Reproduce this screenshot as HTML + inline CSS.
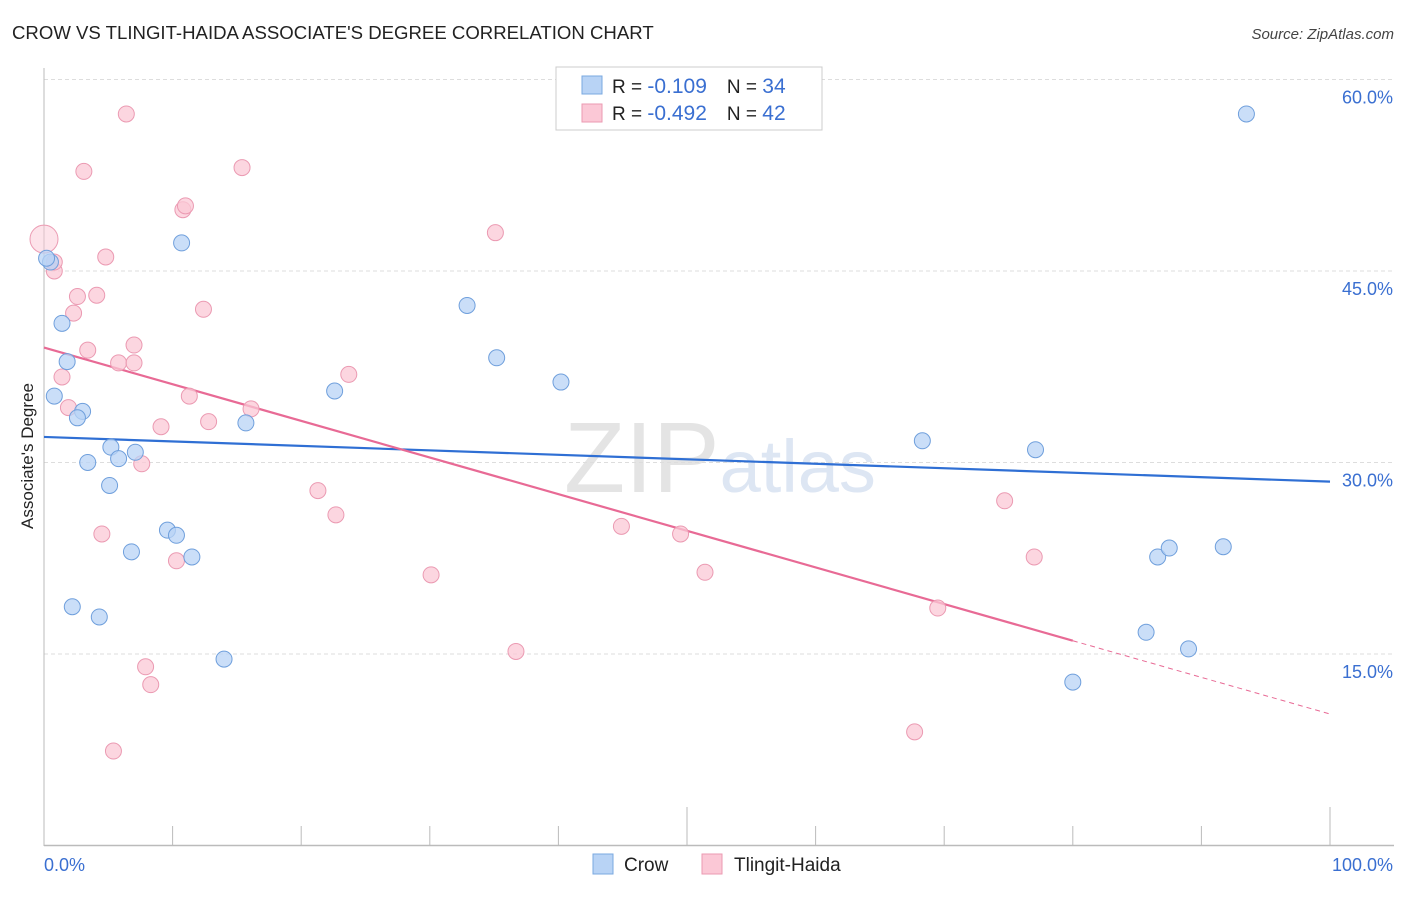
<!DOCTYPE html>
<html><head><meta charset="utf-8"><style>
body{margin:0;background:#fff;font-family:"Liberation Sans",sans-serif;}
svg text{font-family:"Liberation Sans",sans-serif;}
</style></head><body>
<svg id="chart" width="1406" height="892" xmlns="http://www.w3.org/2000/svg">
<text x="12" y="39" font-size="18.6" fill="#222">CROW VS TLINGIT-HAIDA ASSOCIATE'S DEGREE CORRELATION CHART</text>
<text x="1394" y="39" font-size="15" fill="#444" text-anchor="end" font-style="italic">Source: ZipAtlas.com</text>
<text x="720" y="492" font-size="100" text-anchor="middle" fill="#e4e4e4" font-family="Liberation Serif">ZIP<tspan fill="#dde6f3" font-family="Liberation Sans" font-size="74">atlas</tspan></text>
<g id="grid"></g><g id="axes"></g><g id="lines"></g><g id="pts"></g>
<text transform="translate(33,456) rotate(-90)" font-size="17" fill="#222" text-anchor="middle">Associate's Degree</text>
<g>
<rect x="556" y="67" width="266" height="63" fill="#fff" stroke="#ccc"/>
<rect x="582" y="76" width="20" height="18" fill="#b8d3f5" stroke="#7aa8e0"/>
<rect x="582" y="104" width="20" height="18" fill="#fbc8d6" stroke="#eb9ab2"/>
<text x="612" y="93" font-size="19" fill="#222">R = <tspan fill="#3a6fd1" font-size="21">-0.109</tspan><tspan dx="20">N = </tspan><tspan fill="#3a6fd1" font-size="21">34</tspan></text>
<text x="612" y="120" font-size="19" fill="#222">R = <tspan fill="#3a6fd1" font-size="21">-0.492</tspan><tspan dx="20">N = </tspan><tspan fill="#3a6fd1" font-size="21">42</tspan></text>
</g>
<g>
<rect x="593" y="854" width="20" height="20" fill="#b8d3f5" stroke="#7aa8e0"/>
<text x="624" y="871" font-size="19" fill="#222">Crow</text>
<rect x="702" y="854" width="20" height="20" fill="#fbc8d6" stroke="#eb9ab2"/>
<text x="734" y="871" font-size="19" fill="#222">Tlingit-Haida</text>
</g>
</svg>
<script>
const crowX=[0.5,10.7,1.4,1.8,0.8,3.0,2.6,5.2,3.4,5.8,7.1,5.1,6.8,9.6,10.3,11.5,2.2,4.3,14.0,15.7,22.6,32.9,35.2,40.2,68.3,77.1,86.6,87.5,91.7,85.7,89.0,80.0,93.5,0.2];
const crowY=[45.7,47.2,40.9,37.9,35.2,34.0,33.5,31.2,30.0,30.3,30.8,28.2,23.0,24.7,24.3,22.6,18.7,17.9,14.6,33.1,35.6,42.3,38.2,36.3,31.7,31.0,22.6,23.3,23.4,16.7,15.4,12.8,57.3,46.0];
const tlX=[0,0.8,0.8,6.4,3.1,15.4,10.8,11.0,4.8,4.1,2.6,2.3,12.4,3.4,7.0,5.8,7.0,1.4,1.9,11.3,16.1,12.8,9.1,7.6,35.1,23.7,21.3,22.7,4.5,10.3,30.1,44.9,49.5,51.4,74.7,77.0,69.5,36.7,7.9,8.3,5.4,67.7];
const tlY=[47.5,45.0,45.7,57.3,52.8,53.1,49.8,50.1,46.1,43.1,43.0,41.7,42.0,38.8,39.2,37.8,37.8,36.7,34.3,35.2,34.2,33.2,32.8,29.9,48.0,36.9,27.8,25.9,24.4,22.3,21.2,25.0,24.4,21.4,27.0,22.6,18.6,15.2,14.0,12.6,7.4,8.9];
const crowTrend=[32.0,28.5];
const tlTrend=[39.0,10.3];
const tlSolidEnd=80;
const yTicks=[15,30,45,60];
const yTickLabels=["15.0%","30.0%","45.0%","60.0%"];
const xTickCount=10;
const NS="http://www.w3.org/2000/svg";
const X=v=>44+v*12.86, Y=v=>845.5-v*12.767;
function mk(tag,attrs,parent){const e=document.createElementNS(NS,tag);for(const k in attrs)e.setAttribute(k,attrs[k]);document.getElementById(parent).appendChild(e);return e;}
yTicks.forEach((t,i)=>{
 const g=mk('line',{x1:44,x2:1394,y1:Y(t),y2:Y(t),stroke:'#ddd','stroke-dasharray':'4,3'},'grid');
 
 
 const l=mk('text',{x:1393,y:Y(t)+24,'font-size':18,fill:'#3a6fd1','text-anchor':'end'},'grid');
 
 
 l.textContent=yTickLabels[i];
});
let a=mk('line',{x1:44,x2:44,y1:68,y2:846,stroke:'#bbb'},'axes');


a=mk('line',{x1:44,x2:1394,y1:845.5,y2:845.5,stroke:'#bbb','stroke-width':1.5},'axes');


for(let i=0;i<=xTickCount;i++){
 const v=i*100/xTickCount;const big=(i==5||i==10);
 const t=mk('line',{x1:X(v),x2:X(v),y1:big?807:826,y2:846,stroke:'#bbb'},'axes');
 
 
}
let xl=mk('text',{x:44,y:871,'font-size':18,fill:'#3a6fd1'},'axes');


xl.textContent='0.0%';
xl=mk('text',{x:1393,y:871,'font-size':18,fill:'#3a6fd1','text-anchor':'end'},'axes');


xl.textContent='100.0%';
function pts(xs,ys,fill,stroke,name){xs.forEach((x,i)=>{
 const big=(name=='tlingit-point'&&i==0);
 const c=mk('circle',{cx:X(x),cy:Y(ys[i]),r:big?14:8,fill:fill,stroke:stroke,'stroke-width':1,'fill-opacity':big?0.5:0.75},'pts');
 
 
});}
pts(tlX,tlY,'#fbc8d6','#eb9ab2','tlingit-point');
pts(crowX,crowY,'#b8d3f5','#6f9fdc','crow-point');
let ln=mk('line',{x1:X(0),y1:Y(crowTrend[0]),x2:X(100),y2:Y(crowTrend[1]),stroke:'#2f6fd4','stroke-width':2.2},'lines');


const tl=v=>tlTrend[0]+(tlTrend[1]-tlTrend[0])*v/100;
ln=mk('line',{x1:X(0),y1:Y(tl(0)),x2:X(tlSolidEnd),y2:Y(tl(tlSolidEnd)),stroke:'#e86a95','stroke-width':2.2},'lines');


ln=mk('line',{x1:X(tlSolidEnd),y1:Y(tl(tlSolidEnd)),x2:X(100),y2:Y(tl(100)),stroke:'#e86a95','stroke-width':1,'stroke-dasharray':'5,4'},'lines');


</script>
</body></html>
